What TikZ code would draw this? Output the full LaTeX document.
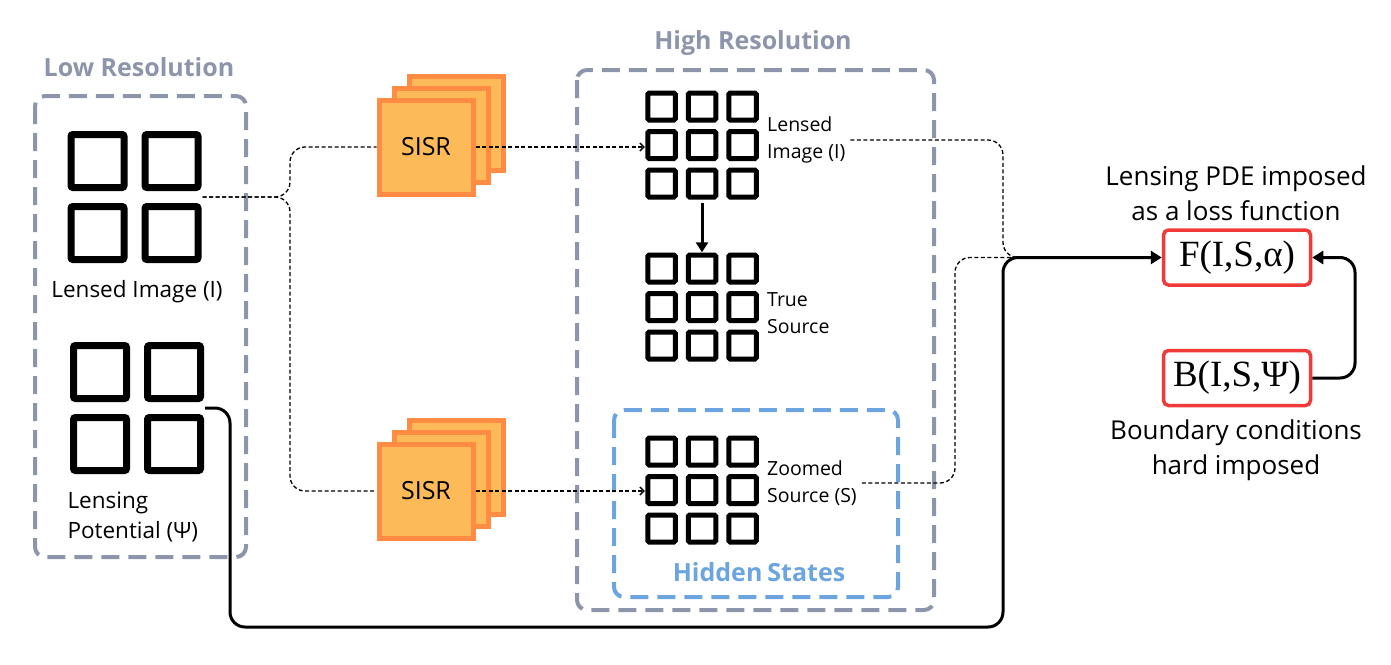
\documentclass[tikz,border=0pt]{standalone}
\usepackage{fontspec}
\setmainfont{Open Sans}
\newfontfamily\titlefont{Open Sans}
\newfontfamily\eqfont{Liberation Serif}
\usetikzlibrary{arrows.meta}
\definecolor{boxgray}{HTML}{8D95AB}
\definecolor{hidblue}{HTML}{6CA4E0}
\definecolor{sisrfill}{HTML}{FDBA58}
\definecolor{sisrdraw}{HTML}{FF8C42}
\definecolor{eqred}{HTML}{F03A3A}
\newcommand\lrgrid[2]{%
  \foreach \i in {-37,37}{\foreach \j in {-36,36}{%
    \draw[bigsq] (#1+\i-26.5,#2+\j-26.5) rectangle (#1+\i+26.5,#2+\j+26.5);}}}
\newcommand\hrgrid[2]{%
  \foreach \i in {-40.5,0,40.5}{\foreach \j in {-38.5,0,38.5}{%
    \draw[smsq] (#1+\i-13.75,#2+\j-13.5) rectangle (#1+\i+13.75,#2+\j+13.5);}}}
\begin{document}
\begin{tikzpicture}[x=1pt,y=-1pt,
  bigsq/.style={draw=black,line width=7pt,rounded corners=2pt},
  smsq/.style={draw=black,line width=5pt,rounded corners=1.5pt},
  groupbox/.style={draw=boxgray,line width=4pt,dash pattern=on 18pt off 9pt,rounded corners=10pt},
  hidbox/.style={draw=hidblue,line width=4pt,dash pattern=on 18pt off 9pt,rounded corners=10pt},
  titletxt/.style={font=\titlefont\bfseries\fontsize{25}{29}\selectfont,text=boxgray},
  lbl/.style={font=\fontsize{22.5}{26}\selectfont},
  smlbl/.style={font=\fontsize{19.5}{27}\selectfont,align=left,anchor=west,inner sep=5pt},
  biglbl/.style={font=\fontsize{26}{35}\selectfont,align=center},
  sisr/.style={draw=sisrdraw,fill=sisrfill,line width=5pt,minimum size=94pt,inner sep=0pt,font=\fontsize{25}{29}\selectfont},
  flow/.style={line width=1.3pt,dash pattern=on 4pt off 2.5pt},
  barb/.style={-{Straight Barb[length=4pt,width=8pt]}},
  eqbox/.style={draw=eqred,line width=3.5pt,rounded corners=5pt,minimum width=147pt,minimum height=55pt,font=\eqfont\fontsize{37}{40}\selectfont},
  solidc/.style={line width=3pt,rounded corners=15pt},
  gridarea/.style={inner sep=0pt,minimum width=#1}
]
\useasboundingbox (0,0) rectangle (1391,664);

% group boxes and titles
\draw[groupbox] (35,96) rectangle (246,557);
\node[titletxt] (lrtitle) at (139,67) {Low Resolution};
\draw[groupbox] (577,70) rectangle (934,610);
\node[titletxt] (hrtitle) at (753,43) {High Resolution};
\draw[hidbox] (614,410) rectangle (898,597);
\node[titletxt,text=hidblue] (hidtitle) at (759,572) {Hidden\hspace{5pt}States};

% low resolution grids
\node[gridarea=136pt,minimum height=133pt] (lrI) at (134.5,197) {};
\lrgrid{134.5}{197}
\node[lbl] (lrIlab) at (137,292) {Lensed Image (I)};
\node[gridarea=136pt,minimum height=133pt] (lrP) at (137,408) {};
\lrgrid{137}{408}
\node[lbl,align=left,anchor=west,font=\fontsize{22.5}{30}\selectfont] (lrPlab) at (64,517) {Lensing\\Potential (Ψ)};

% SISR stacks
\node[sisr] (sisrA2) at (456,123) {};
\node[sisr] (sisrA1) at (441,135) {};
\node[sisr] (sisrA) at (426,147) {SISR};
\node[sisr] (sisrB2) at (456,467) {};
\node[sisr] (sisrB1) at (441,479) {};
\node[sisr] (sisrB) at (426,491) {SISR};

% high resolution grids
\node[gridarea=114pt,minimum height=109pt] (hrI) at (702,145) {};
\hrgrid{702}{145}
\node[smlbl] (hrIlab) at (762,140) {Lensed\\Image (I)};
\node[gridarea=114pt,minimum height=109pt] (hrT) at (702,307) {};
\hrgrid{702}{307}
\node[smlbl] (hrTlab) at (762,313) {True\\Source};
\node[gridarea=114pt,minimum height=109pt] (hrS) at (702,490) {};
\hrgrid{702}{490}
\node[smlbl] (hrSlab) at (762,483) {Zoomed\\Source (S)};

% equations
\node[eqbox] (F) at (1237,257.5) {F(I,S,α)};
\node[eqbox] (B) at (1237,378) {B(I,S,Ψ)};
\node[biglbl] (Flab) at (1236,193) {Lensing PDE imposed\\as a loss function};
\node[biglbl] (Blab) at (1236,450) {Boundary conditions\\hard imposed};

% connectors
\draw[flow,rounded corners=15pt] (lrI.east) -- (290,197) -- (290,147) -- (sisrA.west);
\draw[flow,rounded corners=15pt] (lrI.east) -- (290,197) -- (290,491) -- (sisrB.west);
\draw[flow,barb] (sisrA.east) -- (hrI.west |- sisrA.east);
\draw[flow,barb] (sisrB.east) -- (hrS.west |- sisrB.east);
\draw[line width=3pt,-{Triangle[length=10pt,width=12pt]}] ([yshift=-3pt]hrI.south) -- (hrT.north);

\coordinate (join) at (1035,257.5);
\draw[flow,rounded corners=15pt] (hrIlab.east) -- (1003,140) -- (1003,257.5) -- (join);
\draw[flow,rounded corners=15pt] (hrSlab.east) -- (955,483) -- (955,257.5) -- (join);

\draw[solidc,-{Triangle[length=11pt,width=13pt]}] (lrP.east) -- (230,408) -- (230,627) -- (1003,627) -- (1003,257.5) -- (F.west);
\draw[solidc,-{Triangle[length=11pt,width=13pt]}] (B.east) -- (1355,378) -- (1355,257.5) -- (F.east);
\end{tikzpicture}
\end{document}
